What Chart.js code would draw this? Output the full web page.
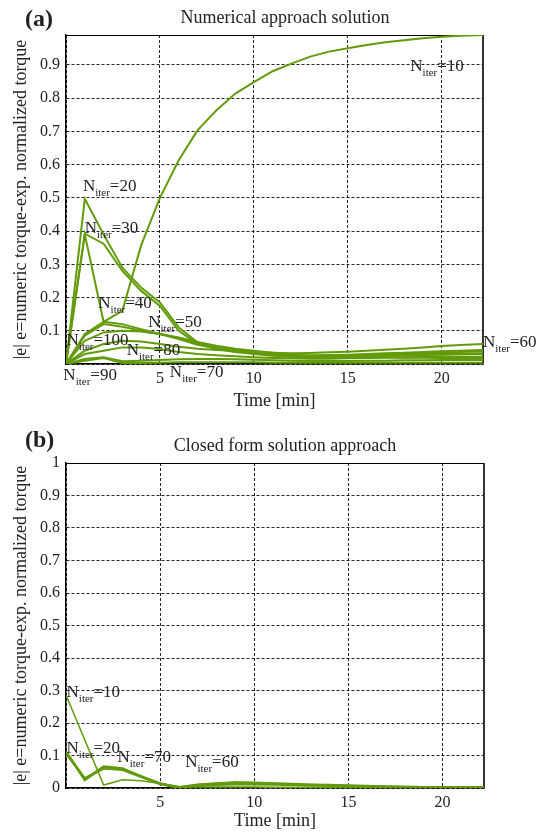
<!DOCTYPE html>
<html>
<head>
<meta charset="utf-8">
<script src="https://cdn.jsdelivr.net/npm/chart.js@4.4.0/dist/chart.umd.min.js"></script>
<style>
  body { margin: 0; background: #fff; }
  .panel { position: absolute; left: 0; width: 543px; height: 415px; }
  #panelA { top: 0; }
  #panelB { top: 420px; }
</style>
</head>
<body>
<div class="panel" id="panelA"><canvas id="chartA"></canvas></div>
<div class="panel" id="panelB"><canvas id="chartB"></canvas></div>
<script>
    // sample times [min]
    const time = [0, 1, 2, 3, 4, 5, 6, 7, 8, 9, 10, 11, 12, 13, 14, 15, 16, 17, 18, 19, 20, 21, 22.2];

    // (a) numerical approach, one curve per iteration count
    const numN10  = [0, 0.09, 0.127, 0.16, 0.357, 0.5, 0.613, 0.703, 0.763, 0.813, 0.848, 0.881, 0.904, 0.925, 0.94, 0.95, 0.96, 0.968, 0.974, 0.98, 0.985, 0.988, 0.99];
    const numN20  = [0, 0.497, 0.39, 0.29, 0.23, 0.185, 0.11, 0.065, 0.05, 0.04, 0.034, 0.03, 0.027, 0.026, 0.027, 0.028, 0.03, 0.032, 0.034, 0.036, 0.038, 0.04, 0.042];
    const numN30  = [0, 0.392, 0.362, 0.28, 0.22, 0.175, 0.1, 0.06, 0.045, 0.036, 0.03, 0.025, 0.022, 0.021, 0.022, 0.024, 0.026, 0.028, 0.03, 0.032, 0.034, 0.036, 0.038];
    const numN40  = [0, 0.39, 0.127, 0.12, 0.105, 0.09, 0.075, 0.058, 0.048, 0.04, 0.034, 0.028, 0.024, 0.022, 0.022, 0.023, 0.024, 0.025, 0.026, 0.027, 0.028, 0.029, 0.03];
    const numN50  = [0, 0.085, 0.12, 0.112, 0.1, 0.09, 0.08, 0.066, 0.055, 0.046, 0.04, 0.034, 0.028, 0.024, 0.022, 0.021, 0.02, 0.02, 0.019, 0.019, 0.018, 0.018, 0.018];
    const numN60  = [0, 0.04, 0.06, 0.07, 0.068, 0.06, 0.052, 0.046, 0.042, 0.04, 0.037, 0.034, 0.032, 0.033, 0.035, 0.037, 0.04, 0.043, 0.046, 0.05, 0.054, 0.057, 0.06];
    const numN70  = [0, 0.015, 0.02, 0.008, 0.01, 0.012, 0.014, 0.015, 0.015, 0.014, 0.013, 0.011, 0.01, 0.009, 0.009, 0.009, 0.01, 0.01, 0.011, 0.011, 0.012, 0.012, 0.012];
    const numN80  = [0, 0.03, 0.04, 0.05, 0.05, 0.045, 0.036, 0.03, 0.026, 0.023, 0.02, 0.018, 0.017, 0.016, 0.016, 0.017, 0.018, 0.019, 0.02, 0.021, 0.022, 0.022, 0.022];
    const numN90  = [0, 0.01, 0.018, 0.003, 0.003, 0.004, 0.005, 0.005, 0.005, 0.005, 0.005, 0.004, 0.004, 0.004, 0.004, 0.004, 0.004, 0.004, 0.004, 0.004, 0.004, 0.004, 0.004];
    const numN100 = [0, 0.07, 0.095, 0.1, 0.098, 0.09, 0.078, 0.062, 0.05, 0.042, 0.035, 0.028, 0.023, 0.021, 0.021, 0.022, 0.024, 0.026, 0.027, 0.029, 0.03, 0.031, 0.032];

    // (b) closed form approach
    const closedN10 = [0.286, null, 0.009, 0.025, 0.022, 0.014, 0.004, 0.003, 0.003, 0.003, 0.003, 0.002, 0.002, 0.002, 0.002, 0.001, 0.001, 0.001, 0.001, 0.001, 0.001, 0.001, 0.001];
    const closedN20 = [0.112, 0.025, 0.066, 0.06, 0.035, 0.014, 0, 0.009, 0.013, 0.016, 0.015, 0.013, 0.011, 0.009, 0.008, 0.007, 0.005, 0.004, 0.003, 0.002, 0.002, 0.002, 0.002];
    const closedN70 = [0.11, 0.028, 0.062, 0.058, 0.036, 0.012, 0.002, 0.01, 0.014, 0.017, 0.016, 0.014, 0.012, 0.01, 0.009, 0.007, 0.006, 0.004, 0.003, 0.002, 0.002, 0.002, 0.002];
    const closedN60 = [0.105, 0.03, 0.06, 0.055, 0.034, 0.013, 0.003, 0.006, 0.009, 0.011, 0.011, 0.01, 0.009, 0.008, 0.007, 0.006, 0.005, 0.004, 0.003, 0.002, 0.002, 0.001, 0.001];

    // curve labels: [iterations, time, value] anchor of the "N"
    const numLabels = [
        ['10', 18.33, 0.883], ['20', 0.9, 0.52], ['30', 1.0, 0.393], ['40', 1.72, 0.168],
        ['50', 4.38, 0.111], ['100', 0.03, 0.057], ['80', 3.23, 0.027], ['90', -0.14, -0.048],
        ['70', 5.53, -0.039], ['60', 22.2, 0.051]
    ];
    const closedLabels = [
        ['10', 0.03, 0.281], ['20', 0.03, 0.107], ['70', 2.73, 0.081], ['60', 6.33, 0.066]
    ];

    const green = 'rgb(98,155,10)';
    const serif = '"Liberation Serif", "Times New Roman", serif';

    function series(values, label, width) {
        return {
            label: label,
            data: time.map((t, i) => ({ x: t, y: values[i] })),
            borderColor: green,
            borderWidth: width,
            pointRadius: 0,
            spanGaps: true,
            tension: 0
        };
    }

    function drawNiter(ctx, x, y, n) {
        ctx.font = '17px ' + serif;
        ctx.fillText('N', x, y);
        x += ctx.measureText('N').width;
        ctx.font = '11px ' + serif;
        ctx.fillText('iter', x, y + 5);
        x += ctx.measureText('iter').width;
        ctx.font = '17px ' + serif;
        ctx.fillText('=' + n, x, y);
    }

    // box, panel letter, title and curve labels
    function decor(letter, letterUp, title, labels) {
        return {
            id: 'decor',
            beforeDatasetsDraw(chart) {
                const { ctx, chartArea: a } = chart;
                ctx.save();
                ctx.strokeStyle = '#000';
                ctx.lineWidth = 1;
                ctx.beginPath();
                ctx.moveTo(a.left, a.top + 0.5);
                ctx.lineTo(a.right, a.top + 0.5);
                ctx.stroke();
                ctx.strokeStyle = '#333';
                ctx.lineWidth = 2;
                ctx.beginPath();
                ctx.moveTo(a.right, a.top);
                ctx.lineTo(a.right, a.bottom);
                ctx.stroke();
                ctx.restore();
            },
            afterDraw(chart) {
                const { ctx, chartArea: a, scales } = chart;
                ctx.save();
                ctx.fillStyle = '#222';
                ctx.textBaseline = 'middle';
                ctx.font = 'bold 24px ' + serif;
                ctx.textAlign = 'left';
                ctx.fillText(letter, 25, a.top - letterUp);
                ctx.font = '18px ' + serif;
                ctx.textAlign = 'center';
                ctx.fillText(title, 285, a.top - 17);
                ctx.textAlign = 'left';
                ctx.textBaseline = 'alphabetic';
                labels.forEach(([n, t, v]) => {
                    drawNiter(ctx, scales.x.getPixelForValue(t), scales.y.getPixelForValue(v), n);
                });
                ctx.restore();
            }
        };
    }

    function axes(yMax, yLabel, xHeight) {
        return {
            x: {
                type: 'linear', min: 0, max: 22.2,
                afterFit: (s) => { s.height = xHeight; },
                ticks: {
                    stepSize: 5, padding: 5, color: '#222', maxRotation: 0,
                    includeBounds: false, autoSkip: false,
                    font: { family: serif, size: 16 },
                    callback: (v) => (v > 0 ? String(v) : '')
                },
                grid: { color: 'rgba(0,0,0,0.85)', lineWidth: 1, drawTicks: false },
                border: { color: '#000', width: 1.5, dash: [3, 2] },
                title: { display: true, text: 'Time [min]', color: '#222',
                         font: { family: serif, size: 18 }, padding: { top: 0, bottom: 3 } }
            },
            y: {
                min: 0, max: yMax,
                afterFit: (s) => { s.width = 66; },
                ticks: {
                    stepSize: 0.1, padding: 6, color: '#222',
                    includeBounds: false, autoSkip: false,
                    font: { family: serif, size: 16 },
                    callback: yLabel
                },
                grid: { color: 'rgba(0,0,0,0.85)', lineWidth: 1, drawTicks: false },
                border: { color: '#000', width: 1.5, dash: [3, 2] },
                title: { display: true, text: '|e| e=numeric torque-exp. normalized torque', color: '#222',
                         font: { family: serif, size: 18 }, padding: { top: 10, bottom: 0 } }
            }
        };
    }

    const common = {
        responsive: true,
        maintainAspectRatio: false,
        animation: false,
        plugins: { legend: { display: false }, tooltip: { enabled: false } }
    };

    new Chart(document.getElementById('chartA'), {
        type: 'line',
        data: {
            datasets: [
                series(numN10, 'N=10', 2), series(numN20, 'N=20', 2), series(numN30, 'N=30', 2),
                series(numN40, 'N=40', 2), series(numN50, 'N=50', 2), series(numN60, 'N=60', 2),
                series(numN70, 'N=70', 2), series(numN80, 'N=80', 2), series(numN90, 'N=90', 2),
                series(numN100, 'N=100', 2)
            ]
        },
        options: Object.assign({}, common, {
            layout: { padding: { top: 35, right: 60, left: 0, bottom: 0 } },
            scales: axes(0.99, (v) => (v > 0.05 && v < 0.95 ? v.toFixed(1) : ''), 51)
        }),
        plugins: [decor('(a)', 15, 'Numerical approach solution', numLabels)]
    });

    new Chart(document.getElementById('chartB'), {
        type: 'line',
        data: {
            datasets: [
                series(closedN10, 'N=10', 1.5), series(closedN20, 'N=20', 2.5),
                series(closedN70, 'N=70', 2.5), series(closedN60, 'N=60', 2)
            ]
        },
        options: Object.assign({}, common, {
            layout: { padding: { top: 43, right: 59, left: 0, bottom: 0 } },
            scales: axes(1, (v) => (v < 0.05 ? '0' : v > 0.95 ? '1' : v.toFixed(1)), 47)
        }),
        plugins: [decor('(b)', 22, 'Closed form solution approach', closedLabels)]
    });
</script>
</body>
</html>
